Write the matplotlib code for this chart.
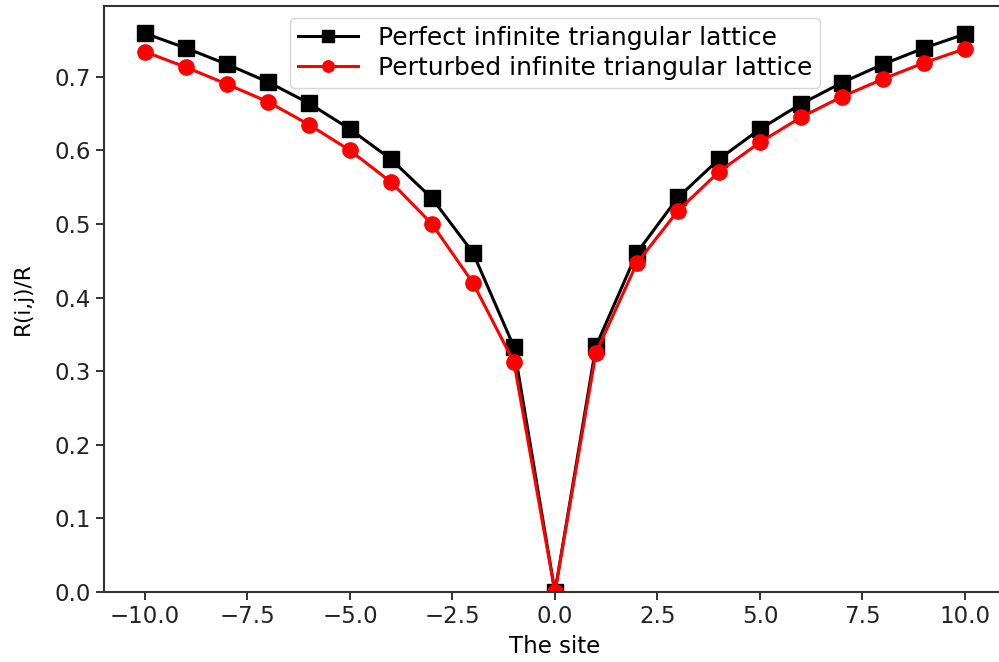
import matplotlib
matplotlib.use('Agg')
import matplotlib.pyplot as plt

# Sites along the chain
sites = [-10, -9, -8, -7, -6, -5, -4, -3, -2, -1, 0, 1, 2, 3, 4, 5, 6, 7, 8, 9, 10]

# R(i,j)/R for the perfect lattice
perfect = [0.759, 0.739, 0.717, 0.693, 0.664, 0.629, 0.588, 0.535, 0.461, 0.333, 0.0,
           0.334, 0.461, 0.536, 0.588, 0.629, 0.663, 0.692, 0.717, 0.739, 0.758]

# R(i,j)/R for the perturbed lattice
perturbed = [0.734, 0.713, 0.690, 0.666, 0.635, 0.600, 0.557, 0.500, 0.420, 0.312, 0.0,
             0.325, 0.447, 0.518, 0.571, 0.611, 0.645, 0.673, 0.697, 0.719, 0.738]

fs = 16.5

fig = plt.figure(figsize=(9.99, 6.62), dpi=100)
ax = fig.add_axes([0.104, 0.1057, 0.903, 0.8853])

ax.plot(sites, perfect, color='black', marker='s', markersize=11, linewidth=2.2,
        label='Perfect infinite triangular lattice')
ax.plot(sites, perturbed, color='red', marker='o', markersize=11, linewidth=2.2,
        label='Perturbed infinite triangular lattice')

ax.set_xlim(-11, 11)
ax.set_ylim(0, 0.7962)
ax.set_xticks([-10, -7.5, -5, -2.5, 0, 2.5, 5, 7.5, 10])
ax.set_yticks([0.0, 0.1, 0.2, 0.3, 0.4, 0.5, 0.6, 0.7])

ax.set_xlabel('The site', fontsize=fs, labelpad=5)
ax.set_ylabel('R(i,j)/R', fontsize=15.5, labelpad=15)
ax.tick_params(axis='both', which='major', labelsize=fs, length=6, width=1.3, colors='#222222')
for s in ax.spines.values():
    s.set_linewidth(1.5)
    s.set_color('#333333')

ax.legend(loc='upper center', fontsize=18, handlelength=2.4, markerscale=0.75,
          labelspacing=0.25, borderpad=0.3, borderaxespad=0.5, handletextpad=0.8,
          framealpha=0.8, edgecolor='#cccccc')

fig.savefig('out.png', dpi=100)
